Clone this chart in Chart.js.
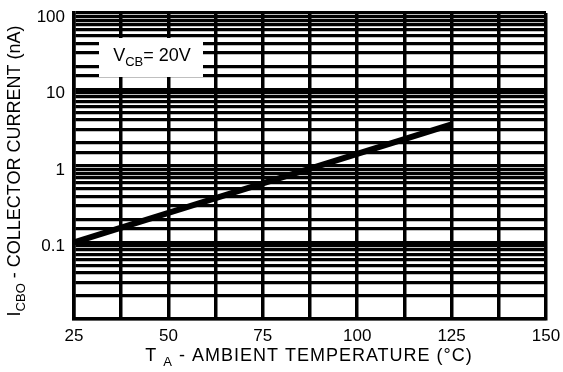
<!DOCTYPE html>
<html>
<head>
<meta charset="utf-8">
<script src="https://cdn.jsdelivr.net/npm/chart.js@4/dist/chart.umd.min.js"></script>
<style>
  html, body { margin: 0; padding: 0; background: #fff; }
  #wrap { width: 563px; height: 372px; }
</style>
</head>
<body>
<div id="wrap"><canvas id="canvas_1" width="563" height="372"></canvas></div>
<script>
// data
let temps = [25, 125];          // T_A (°C)
let icbo = [0.1, 3.5];          // I_CBO (nA)
let yLabels = [0.1, 1, 10, 100];
let xLabels = [25, 50, 75, 100, 125, 150];

let font = 'Liberation Sans, Arial, sans-serif';

// draws text with a subscript part: [main, sub, rest]
function subText(ctx, x, y, parts, size, spacing) {
  ctx.letterSpacing = (spacing || 0) + 'px';
  ctx.font = size + 'px ' + font;
  let w1 = ctx.measureText(parts[0]).width;
  ctx.font = Math.round(size * 0.72) + 'px ' + font;
  let w2 = ctx.measureText(parts[1]).width;
  ctx.font = size + 'px ' + font;
  let w3 = ctx.measureText(parts[2]).width;
  let sx = x - (w1 + w2 + w3) / 2;
  ctx.textAlign = 'left';
  ctx.textBaseline = 'middle';
  ctx.fillText(parts[0], sx, y);
  ctx.font = Math.round(size * 0.72) + 'px ' + font;
  ctx.fillText(parts[1], sx + w1, y + size * 0.35);
  ctx.font = size + 'px ' + font;
  ctx.fillText(parts[2], sx + w1 + w2, y);
  ctx.letterSpacing = '0px';
}

let textPlugin = {
  id: 'textPlugin',
  beforeDatasetsDraw(chart) {
    let ctx = chart.ctx;
    // white label box over the grid
    ctx.save();
    ctx.fillStyle = '#fff';
    ctx.fillRect(99, 38, 104, 39);
    ctx.fillStyle = '#000';
    subText(ctx, 152, 56, ['V', 'CB', '= 20V'], 18);
    ctx.restore();
  },
  afterDraw(chart) {
    let ctx = chart.ctx;
    ctx.save();
    ctx.fillStyle = '#000';
    subText(ctx, 309, 356, ['T ', 'A', ' - AMBIENT TEMPERATURE (°C)'], 18, 1);
    ctx.translate(15, 171);
    ctx.rotate(-Math.PI / 2);
    subText(ctx, 0, 0, ['I', 'CBO', ' - COLLECTOR CURRENT (nA)'], 18);
    ctx.restore();
  }
};

let canvas = document.getElementById("canvas_1");
let ctx = canvas.getContext('2d');
let chart = new Chart(ctx, {
  type: 'line',
  data: {
    datasets: [{
      data: temps.map(function (t, i) { return { x: t, y: icbo[i] }; }),
      borderColor: '#000',
      borderWidth: 6,
      pointRadius: 0,
      fill: false
    }]
  },
  options: {
    responsive: false,
    animation: false,
    layout: { padding: { top: 13, right: 17, left: 0, bottom: 0 } },
    plugins: {
      legend: { display: false },
      tooltip: { enabled: false }
    },
    scales: {
      x: {
        type: 'linear',
        min: 25,
        max: 150,
        afterFit: function (scale) {
          scale.height = 53;
          scale.paddingLeft = 0;
          scale.paddingRight = 0;
        },
        grid: { color: '#000', lineWidth: 3.5, drawTicks: false },
        border: { color: '#000', width: 3.5 },
        ticks: {
          stepSize: 12.5,
          autoSkip: false,
          maxRotation: 0,
          padding: 7,
          color: '#000',
          font: { family: font, size: 17 },
          callback: function (v) { return xLabels.indexOf(v) >= 0 ? String(v) : ''; }
        }
      },
      y: {
        type: 'logarithmic',
        min: 0.01,
        max: 100,
        afterFit: function (scale) {
          scale.width = 74;
          scale.paddingTop = 0;
          scale.paddingBottom = 0;
        },
        grid: { color: '#000', lineWidth: 3.2, drawTicks: false },
        border: { color: '#000', width: 3.5 },
        ticks: {
          autoSkip: false,
          padding: 9,
          labelOffset: 4,
          color: '#000',
          font: { family: font, size: 17 },
          callback: function (v) {
            for (let i = 0; i < yLabels.length; i++) {
              if (Math.abs(v - yLabels[i]) < yLabels[i] * 1e-6) return String(yLabels[i]);
            }
            return '';
          }
        }
      }
    }
  },
  plugins: [textPlugin]
});
</script>
</body>
</html>
